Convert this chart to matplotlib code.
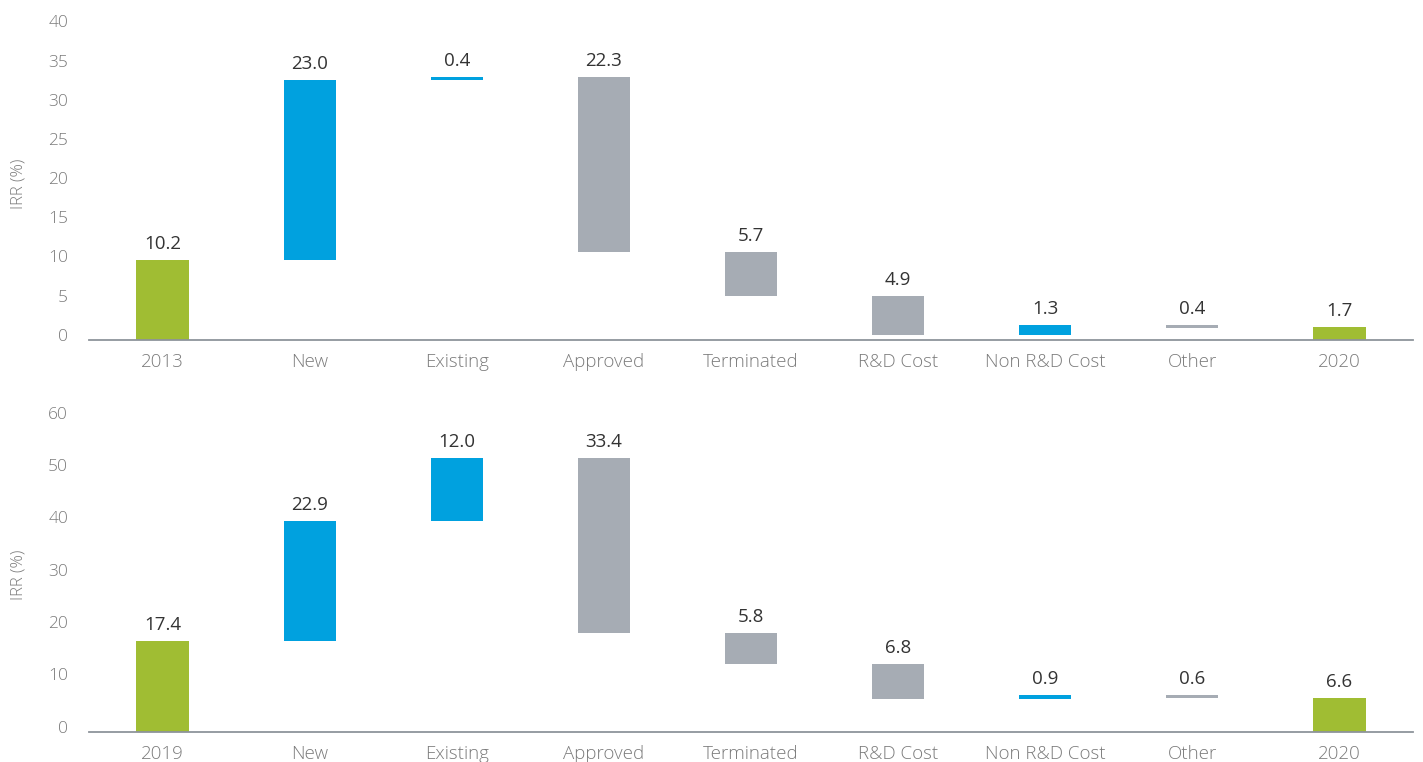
import matplotlib
matplotlib.use("Agg")
import matplotlib.pyplot as plt
import matplotlib.transforms as mtransforms

plt.rcParams['font.family'] = ['Open Sans', 'DejaVu Sans']

GREEN = '#a0bd33'
BLUE = '#00a1df'
GREY = '#a6acb4'

# top chart: 2013 -> 2020
cats_top = ['2013', 'New', 'Existing', 'Approved', 'Terminated', 'R&D Cost', 'Non R&D Cost', 'Other', '2020']
start_top = 10.2
deltas_top = [23.0, 0.4, -22.3, -5.7, -4.9, 1.3, -0.4]
end_top = 1.7

# bottom chart: 2019 -> 2020
cats_bot = ['2019', 'New', 'Existing', 'Approved', 'Terminated', 'R&D Cost', 'Non R&D Cost', 'Other', '2020']
start_bot = 17.4
deltas_bot = [22.9, 12.0, -33.4, -5.8, -6.8, 0.9, -0.6]
end_bot = 6.6


def waterfall(ax, cats, start, deltas, end, ymax, ystep):
    bottoms, heights, colors, labels = [0], [start], [GREEN], [start]
    level = start
    for d in deltas:
        bottoms.append(min(level, level + d))
        heights.append(abs(d))
        colors.append(BLUE if d > 0 else GREY)
        labels.append(abs(d))
        level += d
    bottoms.append(0)
    heights.append(end)
    colors.append(GREEN)
    labels.append(end)

    x = range(len(cats))
    ax.bar(x, heights, bottom=bottoms, width=0.355, color=colors)
    for i in x:
        ax.annotate(f'{labels[i]:.1f}', (i, bottoms[i] + heights[i]),
                    xytext=(0, 5), textcoords='offset points',
                    ha='center', va='bottom', fontsize=13.5, color='#333333')

    ax.set_xlim(-0.5, len(cats) - 0.5)
    ax.set_ylim(0, ymax)
    ax.set_yticks(range(0, ymax + 1, ystep))
    ax.set_xticks(list(x))
    ax.set_xticklabels(cats, fontweight='light')
    for s in ['top', 'right', 'left']:
        ax.spines[s].set_visible(False)
    ax.spines['bottom'].set_color('#8e949b')
    ax.spines['bottom'].set_linewidth(1.3)
    ax.tick_params(axis='both', length=0, labelcolor='#7b7b7b')
    ax.tick_params(axis='y', pad=15, labelsize=12.5)
    ax.tick_params(axis='x', pad=9, labelsize=13.5)
    # y tick labels sit a bit above their gridline level
    off = mtransforms.ScaledTranslation(0, 5.5 / 100, ax.figure.dpi_scale_trans)
    for lab in ax.get_yticklabels():
        lab.set_transform(lab.get_transform() + off)
        lab.set_fontweight('light')
    ax.set_ylabel('IRR (%)', fontsize=12, color='#7b7b7b', fontweight='light')
    ax.yaxis.set_label_coords(-0.047, 0.5)


fig = plt.figure(figsize=(14.23, 7.62), dpi=100)
ax1 = fig.add_axes([0.0625, 0.5534, 0.9305, 0.4114])
ax2 = fig.add_axes([0.0625, 0.0390, 0.9305, 0.4124])

waterfall(ax1, cats_top, start_top, deltas_top, end_top, 40, 5)
waterfall(ax2, cats_bot, start_bot, deltas_bot, end_bot, 60, 10)

fig.savefig('out.png', dpi=100)
